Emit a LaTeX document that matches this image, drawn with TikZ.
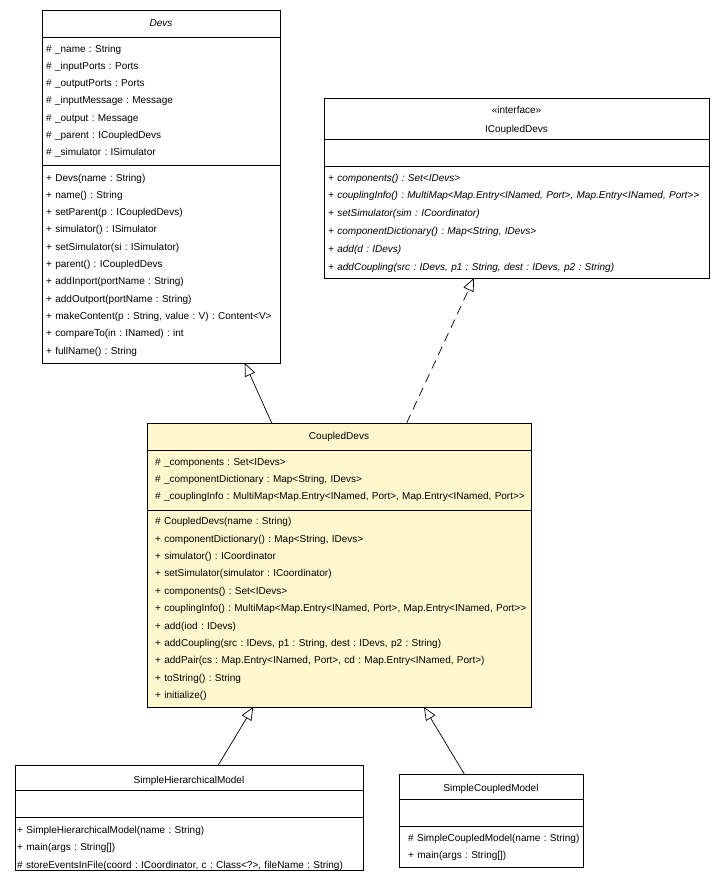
\documentclass[tikz,border=0pt]{standalone}
\usepackage{fontspec}
\setmainfont{Liberation Sans}
\usepackage{tikz}
\usetikzlibrary{positioning}
\usetikzlibrary{arrows.meta}
\usepackage{xcolor}
\definecolor{classyellow}{RGB}{255,248,206}
\frenchspacing

\begin{document}
\begin{tikzpicture}[x=1pt,y=-1pt]
  \useasboundingbox (0,0) rectangle (725,887);
  \begin{scope}[every node/.style={rectangle,draw,line width=0.7pt,inner sep=0pt,outer sep=0pt,anchor=north west}]
    \node[minimum width=238pt,minimum height=353pt] (devs) at (42,10) {};
    \node[minimum width=385pt,minimum height=180pt] (icd) at (324,98) {};
    \node[fill=classyellow,minimum width=384pt,minimum height=284pt] (cd) at (147,423) {};
    \node[minimum width=348pt,minimum height=105pt] (shm) at (15,765) {};
    \node[minimum width=184pt,minimum height=93pt] (scm) at (399,774) {};
  \end{scope}
  \begin{scope}[line width=0.7pt]
    \draw (42,37) -- (280,37);
    \draw[line width=1pt] (42,165) -- (280,165);
    \draw (324,139) -- (709,139);
    \draw[line width=1pt] (324,166) -- (709,166);
    \draw (147,450) -- (531,450);
    \draw[line width=1pt] (147,510) -- (531,510);
    \draw (15,790) -- (363,790);
    \draw (15,817) -- (363,817);
    \draw (399,799) -- (583,799);
    \draw (399,826) -- (583,826);
  \end{scope}
  \begin{scope}[every node/.style={anchor=base,inner sep=0pt,font=\fontsize{10}{12}\selectfont}]
    \node[font=\fontsize{10}{12}\selectfont\itshape] (devs-name) at (161,26.6) {Devs};
    \node (icd-stereo) at (516.5,113.6) {«interface»};
    \node (icd-name) at (516.5,132) {ICoupledDevs};
    \node (cd-name) at (339,439.3) {CoupledDevs};
    \node (shm-name) at (189,783.6) {SimpleHierarchicalModel};
    \node (scm-name) at (491,791) {SimpleCoupledModel};
  \end{scope}
  \begin{scope}[every node/.style={anchor=base west,inner sep=0pt,text width=400pt,align=left,font=\fontsize{10}{17.33}\selectfont}]
    \node (devs-attr) at (46,52) {\# \_name : String\\
      \# \_inputPorts : Ports\\
      \# \_outputPorts : Ports\\
      \# \_inputMessage : Message\\
      \# \_output : Message\\
      \# \_parent : ICoupledDevs\\
      \# \_simulator : ISimulator};
    \node (devs-ops) at (46,181) {+ Devs(name : String)\\
      + name() : String\\
      + setParent(p : ICoupledDevs)\\
      + simulator() : ISimulator\\
      + setSimulator(si : ISimulator)\\
      + parent() : ICoupledDevs\\
      + addInport(portName : String)\\
      + addOutport(portName : String)\\
      + makeContent(p : String, value : V) : Content<V>\\
      + compareTo(in : INamed) : int\\
      + fullName() : String};
    \node[font=\fontsize{10}{17.85}\selectfont\itshape] (icd-ops) at (328,181) {+ components() : Set<IDevs>\\
      + couplingInfo() : MultiMap<Map.Entry<INamed, Port>, Map.Entry<INamed, Port>{}>\\
      + setSimulator(sim : ICoordinator)\\
      + componentDictionary() : Map<String, IDevs>\\
      + add(d : IDevs)\\
      + addCoupling(src : IDevs, p1 : String, dest : IDevs, p2 : String)};
    \node (cd-attr) at (155,465.3) {\# \_components : Set<IDevs>\\
      \# \_componentDictionary : Map<String, IDevs>\\
      \# \_couplingInfo : MultiMap<Map.Entry<INamed, Port>, Map.Entry<INamed, Port>{}>};
    \node[font=\fontsize{10}{17.4}\selectfont] (cd-ops) at (155,524.6) {\# CoupledDevs(name : String)\\
      + componentDictionary() : Map<String, IDevs>\\
      + simulator() : ICoordinator\\
      + setSimulator(simulator : ICoordinator)\\
      + components() : Set<IDevs>\\
      + couplingInfo() : MultiMap<Map.Entry<INamed, Port>, Map.Entry<INamed, Port>{}>\\
      + add(iod : IDevs)\\
      + addCoupling(src : IDevs, p1 : String, dest : IDevs, p2 : String)\\
      + addPair(cs : Map.Entry<INamed, Port>, cd : Map.Entry<INamed, Port>)\\
      + toString() : String\\
      + initialize()};
    \node[font=\fontsize{10}{17.5}\selectfont] (shm-ops) at (17,833) {+ SimpleHierarchicalModel(name : String)\\
      + main(args : String[])\\
      \# storeEventsInFile(coord : ICoordinator, c : Class<?>, fileName : String)};
    \node[font=\fontsize{10}{17.7}\selectfont] (scm-ops) at (408,841) {\# SimpleCoupledModel(name : String)\\
      + main(args : String[])};
  \end{scope}
  % ends of the connectors on the class borders
  \coordinate (devs-in) at ([xshift=202.7pt]devs.south west);
  \coordinate (icd-in) at ([xshift=150pt]icd.south west);
  \coordinate (cd-out1) at ([xshift=124.7pt]cd.north west);
  \coordinate (cd-out2) at ([xshift=259.7pt]cd.north west);
  \coordinate (cd-in1) at ([xshift=106.3pt]cd.south west);
  \coordinate (cd-in2) at ([xshift=277pt]cd.south west);
  \coordinate (shm-out) at ([xshift=203.3pt]shm.north west);
  \coordinate (scm-out) at ([xshift=65.3pt]scm.north west);
  \begin{scope}[every path/.style={->},>={Triangle[open,length=13pt,width=11pt]},line width=0.7pt]
    \draw (cd-out1) -- (devs-in);
    \draw[dash pattern=on 9pt off 6pt] (cd-out2) -- (icd-in);
    \draw (shm-out) -- (cd-in1);
    \draw (scm-out) -- (cd-in2);
  \end{scope}
\end{tikzpicture}
\end{document}
